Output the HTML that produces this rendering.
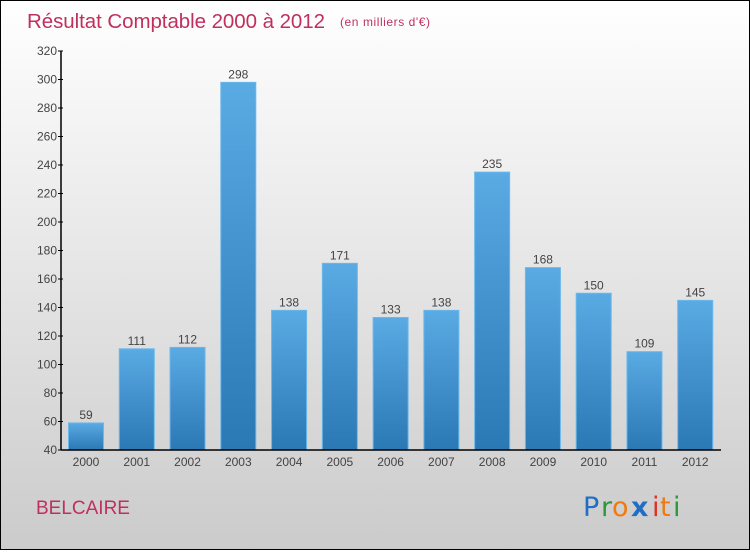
<!DOCTYPE html>
<html><head><meta charset="utf-8"><style>
html,body{margin:0;padding:0}
body{width:750px;height:550px;overflow:hidden;font-family:"Liberation Sans",sans-serif}
</style></head><body>
<svg width="750" height="550" xmlns="http://www.w3.org/2000/svg" font-family="Liberation Sans, sans-serif">
<defs>
<linearGradient id="bg" x1="0" y1="0" x2="0" y2="1"><stop offset="0" stop-color="#ffffff"/><stop offset="1" stop-color="#cbcbcb"/></linearGradient>
<linearGradient id="bar" x1="0" y1="0" x2="0" y2="1"><stop offset="0" stop-color="#5aaae4"/><stop offset="1" stop-color="#2a78b4"/></linearGradient>
</defs>
<rect x="0.5" y="0.5" width="749" height="549" fill="url(#bg)" stroke="#000"/>
<text x="27" y="28" font-size="20.5" fill="#c0305e" textLength="298">Résultat Comptable 2000 à 2012</text>
<text x="340" y="26" font-size="12" fill="#c0305e" textLength="90">(en milliers d'€)</text>
<g id="plot"></g>
<text x="36" y="514" font-size="19" fill="#c0305e">BELCAIRE</text>
<g font-size="27" font-family="DejaVu Sans">
<text x="583" y="516" fill="#1f6fc4">P</text><text x="601" y="516" fill="#2a9a3a">r</text><text x="612" y="516" fill="#f07a10">o</text><text x="631" y="516" fill="#1f6fc4" font-weight="bold">x</text><text x="652" y="516" fill="#e03020">i</text><text x="660" y="516" fill="#f07a10">t</text><text x="673" y="516" fill="#2a9a3a">i</text>
</g>
</svg>
<script>
const categories=["2000","2001","2002","2003","2004","2005","2006","2007","2008","2009","2010","2011","2012"];
const values=[59,111,112,298,138,171,133,138,235,168,150,109,145];
const yTicks=[40,60,80,100,120,140,160,180,200,220,240,260,280,300,320];
const NS="http://www.w3.org/2000/svg";
const g=document.getElementById('plot');
const x0=61,x1=721,yMin=40,yMax=320,py0=450,py1=51;
const slot=(x1-x0)/categories.length;
const y=v=>py0-(v-yMin)/(yMax-yMin)*(py0-py1);
function el(t,a,txt){const e=document.createElementNS(NS,t);for(const k in a)e.setAttribute(k,a[k]);if(txt!=null)e.textContent=txt;g.appendChild(e);return e;}
values.forEach((v,i)=>{
 const bx=x0+i*slot+7.5;
 const r=el('rect',{x:bx,y:y(v),width:35,height:py0-y(v),fill:'url(#bar)',stroke:'#6bb8ea','stroke-width':1});
 
 
 const t=el('text',{x:bx+17.5,y:y(v)-4,'text-anchor':'middle','font-size':12,fill:'#444'},String(v));
 
 
 const c=el('text',{x:bx+17.5,y:466,'text-anchor':'middle','font-size':12,fill:'#444'},categories[i]);
 
 
});
yTicks.forEach(v=>{
 const l=el('line',{x1:x0-3,x2:x0+2,y1:y(v),y2:y(v),stroke:'#000'});
 
 
 const t=el('text',{x:x0-4,y:y(v)+4,'text-anchor':'end','font-size':12,fill:'#444'},String(v));
 
 
});
const ya=el('line',{x1:x0,x2:x0,y1:py1,y2:py0,stroke:'#000','stroke-width':1.5});


const xa=el('line',{x1:x0,x2:x1,y1:py0,y2:py0,stroke:'#000','stroke-width':1.5});


</script>
</body></html>
